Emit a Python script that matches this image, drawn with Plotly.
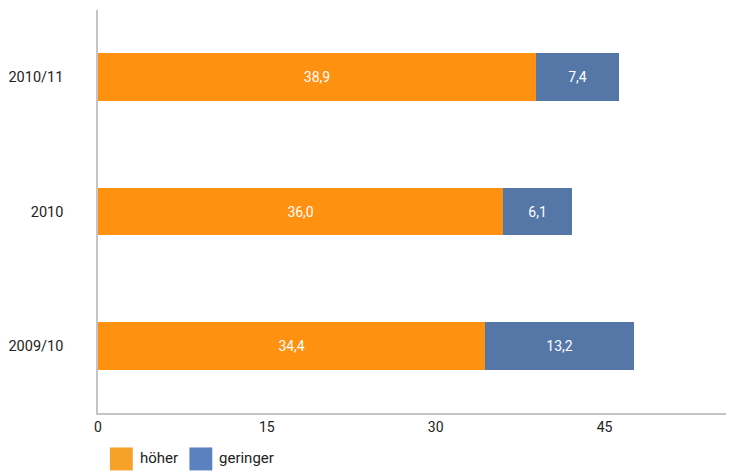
import plotly.graph_objects as go

categories = ["2009/10", "2010", "2010/11"]
hoeher = [34.4, 36.0, 38.9]
geringer = [13.2, 6.1, 7.4]
x_ticks = [0, 15, 30, 45]
series_names = ["höher", "geringer"]

bar_colors = ["#FF9111", "#5577A8"]
legend_colors = ["#F6A129", "#5A82C0"]
FONT = "Roboto"

fig = go.Figure()
for name, vals, col in zip(series_names, [hoeher, geringer], bar_colors):
    fig.add_trace(go.Bar(
        y=categories, x=vals, name=name, orientation="h",
        marker=dict(color=col, line=dict(width=0)),
        texttemplate="%{x:.1f}", textposition="inside",
        insidetextanchor="middle", textangle=0,
        insidetextfont=dict(color="white", size=14, family=FONT),
        showlegend=False, hoverinfo="skip",
    ))

# page body offset of 8px compensated
OFF = 8
W, H = 734 - OFF, 472 - OFF
ml, mr, mt = 94 - OFF, 0, 10 - OFF
plot_bottom = 413.5
mb = H - (plot_bottom - OFF)
pw, ph = W - ml - mr, H - mt - mb

def px2paper(x, y):
    return (x - OFF - ml) / pw, (H - mb - (y - OFF)) / ph

# manual legend
legend_items = [(106, 129, 134), (186, 209, 214)]
for (x0, x1, tx), name, col in zip(legend_items, series_names, legend_colors):
    a0, b0 = px2paper(x0, 471)
    a1, b1 = px2paper(x1, 448)
    fig.add_shape(type="rect", xref="paper", yref="paper", x0=a0, x1=a1, y0=b0, y1=b1,
                  fillcolor=col, line=dict(width=0))
    ta, tb = px2paper(tx, 459)
    fig.add_annotation(xref="paper", yref="paper", x=ta, y=tb, text=name,
                       showarrow=False, xanchor="left", yanchor="middle",
                       font=dict(family=FONT, size=15, color="#222222"))

fig.update_layout(
    width=W, height=H, barmode="stack", bargap=0.643,
    margin=dict(l=ml, r=mr, t=mt, b=mb),
    paper_bgcolor="white", plot_bgcolor="white",
    separators=",.",
    font=dict(family=FONT, size=14, color="#222222"),
    showlegend=False,
    xaxis=dict(range=[0, 56.5], tickvals=x_ticks, showgrid=False, zeroline=False,
               showline=True, linecolor="#c4c4c4", linewidth=1.5, ticks="",
               tickfont=dict(size=14), fixedrange=True),
    yaxis=dict(categoryorder="array", categoryarray=categories, range=[-0.5, 2.5],
               showgrid=False, zeroline=False, showline=True, linecolor="#c4c4c4",
               linewidth=1.5, ticks="", ticklabelstandoff=30, tickfont=dict(size=14.5)),
)

fig.write_html("out.html")
